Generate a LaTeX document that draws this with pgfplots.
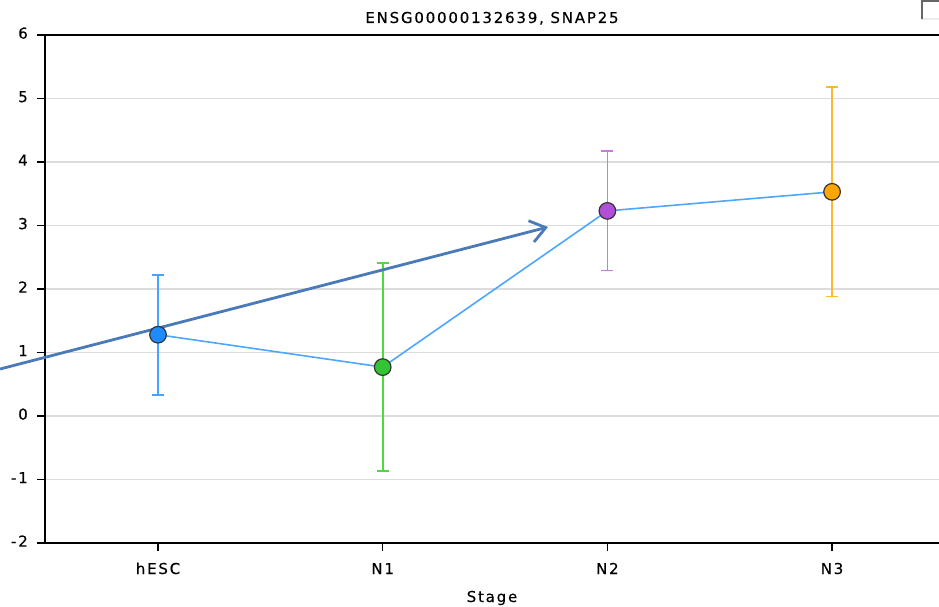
\documentclass[border=0pt]{standalone}
\usepackage{fontspec}
\setmainfont{DejaVu Sans}[LetterSpace=12, FakeBold=0.4]
\usepackage{pgfplots}
\pgfplotsset{compat=1.18}
\usetikzlibrary{arrows.meta}
\definecolor{linec}{HTML}{4DA6FF}
\definecolor{gridc}{HTML}{DCDCDC}
\definecolor{arrowc}{HTML}{4A7AB8}
\definecolor{m1}{HTML}{1E8CFF}\definecolor{e1}{HTML}{46A3FF}
\definecolor{m2}{HTML}{33C433}\definecolor{e2}{HTML}{4CDB3C}
\definecolor{m3}{HTML}{B150D6}\definecolor{e3}{HTML}{C97ADF}
\definecolor{m4}{HTML}{FFA500}\definecolor{e4}{HTML}{FFB730}
\begin{document}
\fontsize{15pt}{18pt}\selectfont
\begin{tikzpicture}
\begin{axis}[
  scale only axis, width=894pt, height=508pt,
  xmin=-0.503, xmax=3.476, ymin=-2, ymax=6,
  xtick={0,1,2,3}, xticklabels={hESC,N1,N2,N3},
  ytick={-2,-1,0,1,2,3,4,5,6},
  axis x line*=bottom, axis y line*=left,
  axis line style={-, line width=1.6pt, black},
  tick align=outside, major tick length=8pt,
  tick style={black, line width=1.3pt},
  ymajorgrids, grid style={draw=gridc, line width=1.3pt},
  clip=false,
  /pgf/number format/assume math mode=true,
  title={ENSG00000132639, SNAP25},
  title style={anchor=base, at={(0.5,1)}, yshift=6pt, inner sep=0pt},
  xlabel={Stage},
  xlabel style={anchor=base, at={(0.5,0)}, yshift=-59pt, inner sep=0pt},
  xticklabel style={anchor=base, inner sep=0pt, yshift=-23pt},
  yticklabel style={anchor=east, inner sep=0pt, xshift=-9pt},
  typeset ticklabels with strut=false,
]
\draw[black, line width=1.6pt] (rel axis cs:0,1) -- (rel axis cs:1.01,1);
\addplot[linec, line width=1.6pt, mark=none] coordinates {(0,1.28) (1,0.77) (2,3.23) (3,3.53)};
% error bars
\addplot[only marks, mark=none, error bars/.cd, y dir=both, y explicit,
  error bar style={draw=e1, line width=1.7pt},
  error mark options={draw=e1, rotate=90, mark size=6pt, line width=1.7pt}]
  coordinates {(0,1.28) +- (0,0.945)};
\addplot[only marks, mark=none, error bars/.cd, y dir=both, y explicit,
  error bar style={draw=e2, line width=1.7pt},
  error mark options={draw=e2, rotate=90, mark size=6pt, line width=1.7pt}]
  coordinates {(1,0.77) +- (0,1.637)};
\addplot[only marks, mark=none, error bars/.cd, y dir=both, y explicit,
  error bar style={draw=e3, line width=1.7pt},
  error mark options={draw=e3, rotate=90, mark size=6pt, line width=1.7pt}]
  coordinates {(2,3.23) +- (0,0.94)};
\addplot[only marks, mark=none, error bars/.cd, y dir=both, y explicit,
  error bar style={draw=e4, line width=1.7pt},
  error mark options={draw=e4, rotate=90, mark size=6pt, line width=1.7pt}]
  coordinates {(3,3.53) +- (0,1.65)};
% markers
\addplot[only marks, mark=*, mark size=8.3pt, mark options={fill=m1, draw=black!80, line width=1.2pt}] coordinates {(0,1.28)};
\addplot[only marks, mark=*, mark size=8.3pt, mark options={fill=m2, draw=black!80, line width=1.2pt}] coordinates {(1,0.77)};
\addplot[only marks, mark=*, mark size=8.3pt, mark options={fill=m3, draw=black!80, line width=1.2pt}] coordinates {(2,3.23)};
\addplot[only marks, mark=*, mark size=8.3pt, mark options={fill=m4, draw=black!80, line width=1.2pt}] coordinates {(3,3.53)};
% annotation arrow
\addplot[arrowc, line width=2.8pt, mark=none, -{Straight Barb[length=15pt, width=22pt, line width=2.8pt]}]
  coordinates {(-0.703,0.74) (1.736,2.976)};
\coordinate (sw) at (rel axis cs:0,0);
\coordinate (ne) at (rel axis cs:1,1);
\end{axis}
% checkbox at top right
\fill[white!93!black] ([xshift=-18pt,yshift=15pt]ne) rectangle ([xshift=20pt,yshift=34pt]ne);
\fill[white] ([xshift=-16pt,yshift=17pt]ne) rectangle ([xshift=20pt,yshift=34pt]ne);
\draw[black!60, line width=1.5pt] ([xshift=-17pt,yshift=16pt]ne) -- ([xshift=-17pt,yshift=34pt]ne) -- ([xshift=20pt,yshift=34pt]ne);
\pgfresetboundingbox
\path[use as bounding box] ([xshift=-45pt,yshift=-64pt]sw) rectangle ([yshift=35pt]ne);
\end{tikzpicture}
\end{document}
